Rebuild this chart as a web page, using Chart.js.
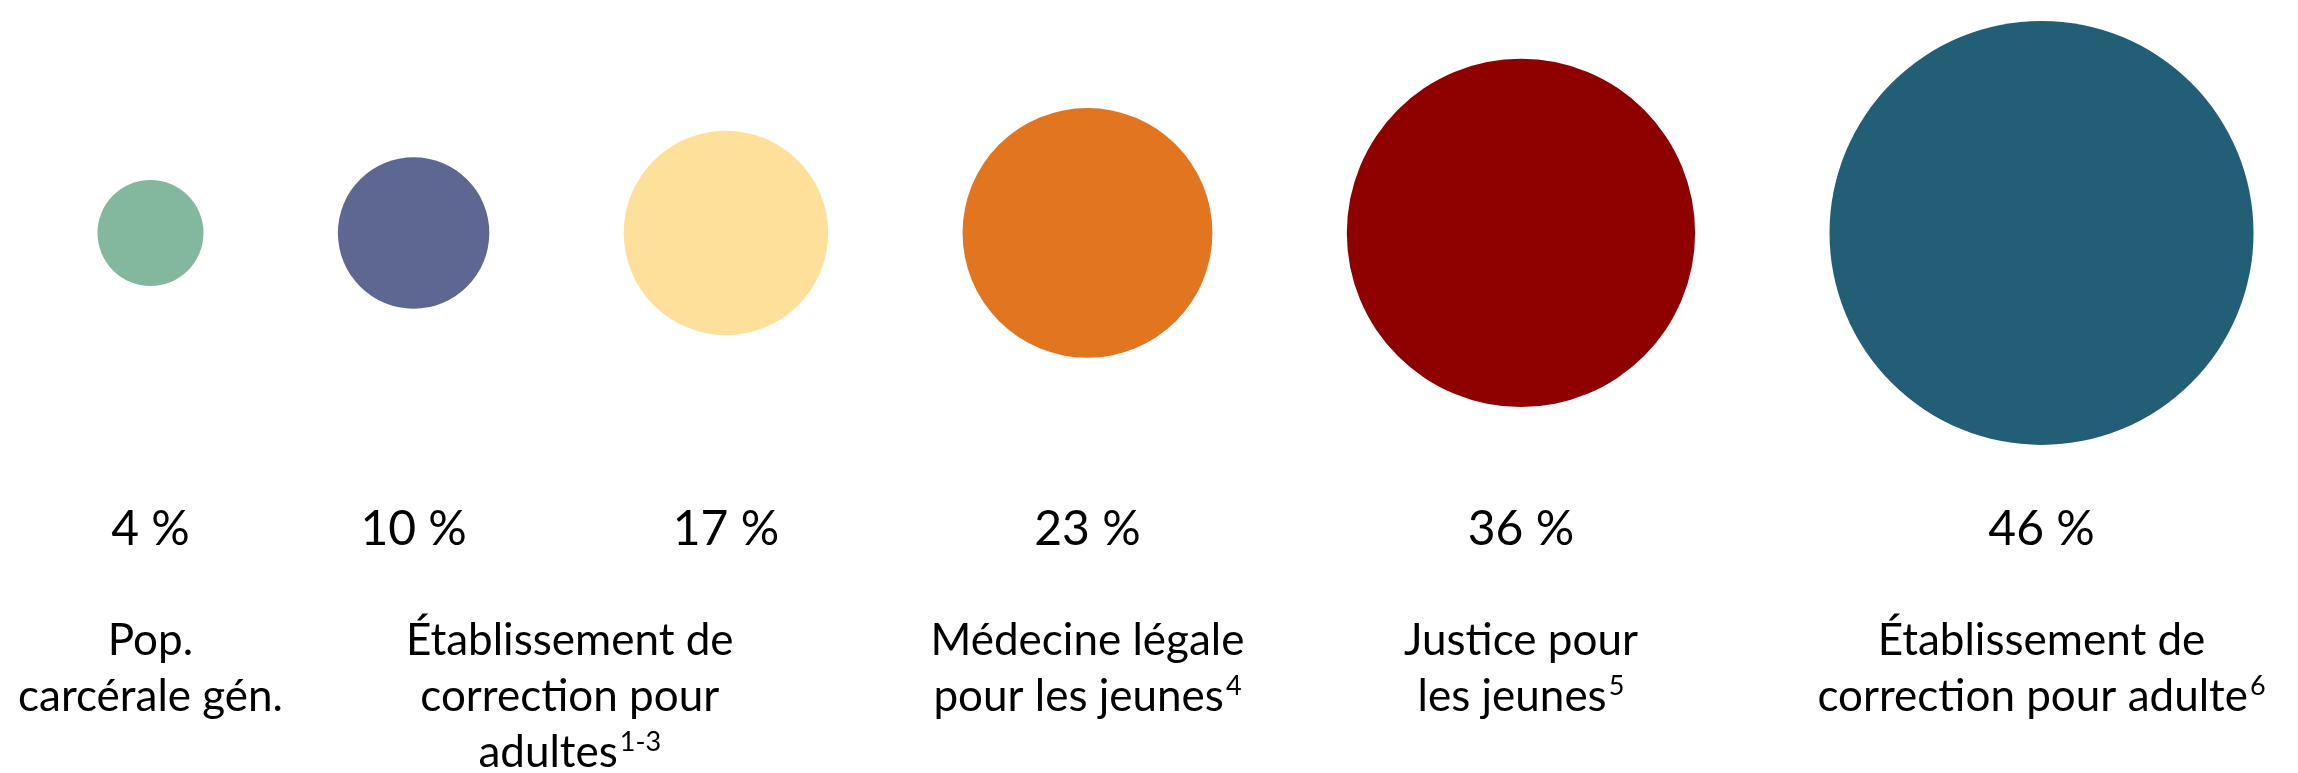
<!DOCTYPE html>
<html>
<head>
<meta charset="utf-8">
<script src="https://cdn.jsdelivr.net/npm/chart.js@4.4.1/dist/chart.umd.min.js"></script>
<style>
  html, body { margin: 0; padding: 0; background: #fff; overflow: hidden; }
  canvas { display: block; }
</style>
</head>
<body>
<canvas id="chart" width="2298" height="773"></canvas>
<script>
const values = [4, 10, 17, 23, 36, 46];
const colors = ['#84B89E', '#5E6792', '#FFE09B', '#E27520', '#8F0000', '#235E77'];
// which bubbles each caption sits under
const groups = [[0], [1, 2], [3], [4], [5]];
const groupLabels = [
  ['Pop.', 'carcérale gén.'],
  ['Établissement de', 'correction pour', 'adultes^1-3'],
  ['Médecine légale', 'pour les jeunes^4'],
  ['Justice pour', 'les jeunes^5'],
  ['Établissement de', 'correction pour adulte^6'],
];

// bubble radius grows linearly with the value, in x-axis units
const OFFSET = 10;
const GAP = 35.5;
const LEFT = 25.75;
const X_MAX = 607;

const xs = [];
let cursor = LEFT;
values.forEach(v => {
  const r = v + OFFSET;
  xs.push(cursor + r);
  cursor += 2 * r + GAP;
});

const points = values.map((v, i) => ({ x: xs[i], y: 0 }));

const FONT = 'Lato, "Open Sans", sans-serif';

function drawLine(ctx, text, cx, y, size) {
  const [main, sup] = text.split('^');
  ctx.font = `${size}px ${FONT}`;
  const wMain = ctx.measureText(main).width;
  let wSup = 0;
  const supSize = Math.round(size * 0.62);
  if (sup) {
    ctx.font = `${supSize}px ${FONT}`;
    wSup = ctx.measureText(sup).width + 2;
  }
  const left = cx - (wMain + wSup) / 2;
  ctx.textAlign = 'left';
  ctx.font = `${size}px ${FONT}`;
  ctx.fillText(main, left, y);
  if (sup) {
    ctx.font = `${supSize}px ${FONT}`;
    ctx.fillText(sup, left + wMain + 2, y - size * 0.36);
  }
}

const labelPlugin = {
  id: 'bubbleLabels',
  afterDatasetsDraw(chart) {
    const { ctx, scales: { x } } = chart;
    ctx.save();
    ctx.fillStyle = '#000';
    ctx.textBaseline = 'alphabetic';

    values.forEach((v, i) => {
      drawLine(ctx, `${v} %`, x.getPixelForValue(xs[i]), 545, 48);
    });

    groups.forEach((g, gi) => {
      const cx = g.reduce((s, i) => s + x.getPixelForValue(xs[i]), 0) / g.length;
      groupLabels[gi].forEach((line, li) => {
        drawLine(ctx, line, cx, 655 + li * 56, 44);
      });
    });
    ctx.restore();
  }
};

new Chart(document.getElementById('chart'), {
  type: 'bubble',
  data: {
    datasets: [{
      data: points,
      backgroundColor: colors,
      borderWidth: 0,
      clip: false,
      // x units -> pixels, the chart area spans the whole canvas
      radius: ctx => (values[ctx.dataIndex] + OFFSET) * ctx.chart.width / X_MAX,
    }],
  },
  options: {
    responsive: false,
    animation: false,
    events: [],
    layout: { padding: 0, autoPadding: false },
    scales: {
      x: { type: 'linear', display: false, min: 0, max: X_MAX },
      y: { type: 'linear', display: false, min: -142.6, max: 61.5 },
    },
    plugins: {
      legend: { display: false },
      tooltip: { enabled: false },
    },
  },
  plugins: [labelPlugin],
});
</script>
</body>
</html>
